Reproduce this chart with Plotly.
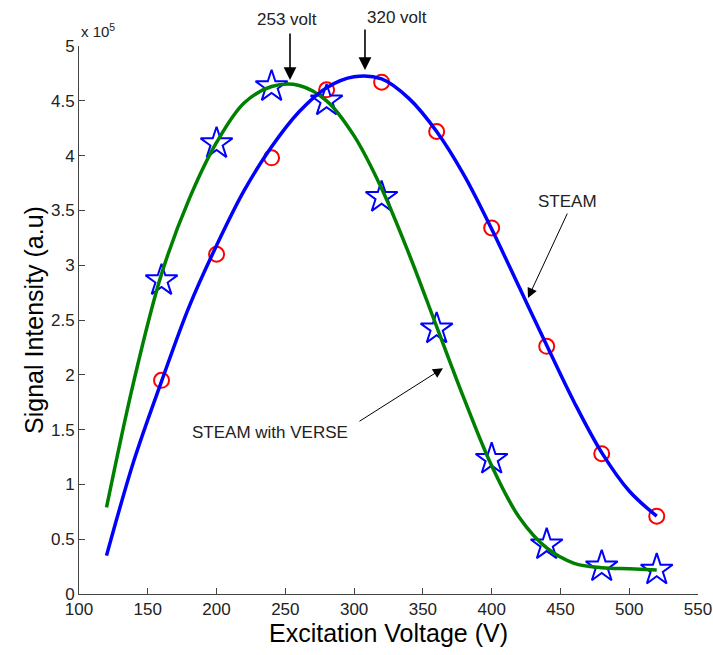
import plotly.graph_objects as go

# ---- data (signal in units of 1e5) ----
volt_pts = [160, 200, 240, 280, 320, 360, 400, 440, 480, 520]
steam_pts = [1.95, 3.10, 3.98, 4.60, 4.67, 4.22, 3.34, 2.26, 1.28, 0.71]
verse_pts = [2.86, 4.11, 4.63, 4.50, 3.62, 2.42, 1.23, 0.45, 0.25, 0.22]

fit_x = [120, 140, 160, 180, 200, 220, 240, 260, 280, 300, 320, 340, 360,
         380, 400, 420, 440, 460, 480, 500, 520]
steam_fit = [0.35, 1.22, 1.94, 2.62, 3.18, 3.68, 4.08, 4.40, 4.62, 4.72, 4.70,
             4.52, 4.22, 3.82, 3.33, 2.80, 2.27, 1.75, 1.29, 0.94, 0.71]
verse_fit = [0.79, 1.95, 2.92, 3.60, 4.12, 4.48, 4.63, 4.64, 4.50, 4.18, 3.70,
             3.10, 2.44, 1.78, 1.17, 0.70, 0.42, 0.28, 0.24, 0.23, 0.22]

x_ticks = [100, 150, 200, 250, 300, 350, 400, 450, 500, 550]
y_ticks = [0, 0.5, 1, 1.5, 2, 2.5, 3, 3.5, 4, 4.5, 5]

FONT = "Liberation Sans, Arial, sans-serif"
L, R, T, B = 79, 698, 46, 594


def px(xp):
    return (xp - L) / (R - L)


def py(yp):
    return (B - yp) / (B - T)


fig = go.Figure()
fig.add_trace(go.Scatter(x=volt_pts, y=steam_pts, mode="markers",
                         marker=dict(symbol="circle-open", size=15, color="#ff0000",
                                     line=dict(width=2, color="#ff0000")),
                         showlegend=False))
fig.add_trace(go.Scatter(x=volt_pts, y=verse_pts, mode="markers",
                         marker=dict(symbol="star-open", size=24, color="#0000ff",
                                     line=dict(width=2, color="#0000ff")),
                         showlegend=False))
fig.add_trace(go.Scatter(x=fit_x, y=verse_fit, mode="lines", line_shape="spline",
                         line=dict(color="#008000", width=3.5), showlegend=False))
fig.add_trace(go.Scatter(x=fit_x, y=steam_fit, mode="lines", line_shape="spline",
                         line=dict(color="#0000ff", width=3.5), showlegend=False))


def label(xp, yp, text, size=17):
    return dict(x=px(xp), y=py(yp), xref="paper", yref="paper",
                xanchor="center", yanchor="middle", text=text, showarrow=False,
                font=dict(family=FONT, size=size, color="#222222"))


annotations = [
    # 253 volt
    dict(x=253.4, y=4.69, xref="x", yref="y", ax=0, ay=-48, text="",
         showarrow=True, arrowhead=2, arrowsize=1.6, arrowwidth=1.6, arrowcolor="black"),
    label(287, 19, "253 volt"),
    # 320 volt
    dict(x=307.9, y=4.78, xref="x", yref="y", ax=0, ay=-42, text="",
         showarrow=True, arrowhead=2, arrowsize=1.6, arrowwidth=1.6, arrowcolor="black"),
    label(397, 18, "320 volt"),
    # STEAM
    dict(x=426.4, y=2.70, xref="x", yref="y", ax=40, ay=-86, text="",
         showarrow=True, arrowhead=2, arrowsize=2, arrowwidth=1, arrowcolor="black"),
    label(567, 201, "STEAM"),
    # STEAM with VERSE
    dict(x=364.6, y=2.06, xref="x", yref="y", ax=-85, ay=54, text="",
         showarrow=True, arrowhead=2, arrowsize=2, arrowwidth=1, arrowcolor="black"),
    label(270, 432, "STEAM with VERSE"),
    # exponent
    dict(x=0, y=1, xref="paper", yref="paper", xanchor="left", yanchor="bottom",
         yshift=4, text="x 10<sup>5</sup>", showarrow=False,
         font=dict(family=FONT, size=15, color="#222222")),
]

fig.update_layout(
    width=713, height=655,
    margin=dict(l=L, r=713 - R, t=T, b=655 - B, autoexpand=False),
    paper_bgcolor="white", plot_bgcolor="white",
    font=dict(family=FONT, color="#222222"),
    annotations=annotations,
    xaxis=dict(range=[100, 550], tickvals=x_ticks, ticks="inside", ticklen=6,
               showline=True, linecolor="#444444", linewidth=1, tickcolor="#444444",
               showgrid=False, zeroline=False, automargin=False,
               tickfont=dict(family=FONT, size=17, color="#222222"),
               title=dict(text="Excitation Voltage (V)", standoff=6,
                          font=dict(family=FONT, size=25, color="black"))),
    yaxis=dict(range=[0, 5], tickvals=y_ticks, ticks="inside", ticklen=6,
               showline=True, linecolor="#444444", linewidth=1, tickcolor="#444444",
               showgrid=False, zeroline=False, automargin=False,
               tickfont=dict(family=FONT, size=17, color="#222222"),
               title=dict(text="Signal Intensity (a.u)", standoff=0,
                          font=dict(family=FONT, size=25, color="black"))),
)

fig.write_html("out.html")
